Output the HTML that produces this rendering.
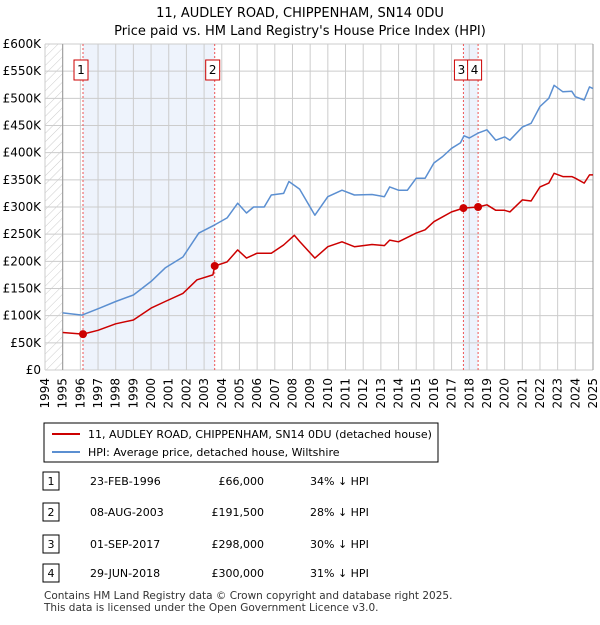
<!DOCTYPE html>
<html><head><meta charset="utf-8"><style>
body{margin:0;background:#fff;font-family:"Liberation Sans","DejaVu Sans",sans-serif;}
svg text{font-family:"DejaVu Sans","Liberation Sans",sans-serif;}
</style></head><body>
<svg id="c" width="600" height="620" xmlns="http://www.w3.org/2000/svg">
<defs><pattern id="hatch" width="6" height="6" patternUnits="userSpaceOnUse" patternTransform="rotate(45)"><line x1="0" y1="0" x2="0" y2="6" stroke="#ccc" stroke-width="1"/></pattern></defs>
<text x="300" y="17" text-anchor="middle" font-size="13" fill="#000">11, AUDLEY ROAD, CHIPPENHAM, SN14 0DU</text>
<text x="300" y="35" text-anchor="middle" font-size="13" fill="#000">Price paid vs. HM Land Registry's House Price Index (HPI)</text>
<g id="plot"></g>
<g>
<rect x="44" y="423" width="394" height="39" fill="#fff" stroke="#000" stroke-width="1"/>
<line x1="52" y1="434" x2="80" y2="434" stroke="#cc0000" stroke-width="2"/>
<text x="88" y="438" font-size="11">11, AUDLEY ROAD, CHIPPENHAM, SN14 0DU (detached house)</text>
<line x1="52" y1="452" x2="80" y2="452" stroke="#5b8fd1" stroke-width="2"/>
<text x="88" y="456" font-size="11">HPI: Average price, detached house, Wiltshire</text>
</g>
<g id="table" font-size="11"></g>
<text x="44" y="599" font-size="10.5" fill="#333">Contains HM Land Registry data © Crown copyright and database right 2025.</text>
<text x="44" y="611" font-size="10.5" fill="#333">This data is licensed under the Open Government Licence v3.0.</text>
</svg>
<script>
const hpiYears=[1995,1996.1,1997.1,1998,1999,2000,2000.8,2001.8,2002.7,2003.6,2004.3,2004.9,2005.4,2005.8,2006.4,2006.8,2007.5,2007.8,2008.4,2009.27,2010,2010.8,2011.5,2012.5,2013.2,2013.5,2014,2014.5,2015,2015.5,2016,2016.5,2017,2017.5,2017.7,2018,2018.5,2019,2019.5,2020,2020.3,2021,2021.5,2022,2022.5,2022.8,2023.3,2023.8,2024,2024.5,2024.8,2025];
const hpiValues=[105,101,114,126,138,163,188,208,252,267,280,307,289,300,300,322,325,347,333,285,319,331,322,323,319,337,331,331,353,353,381,393,408,418,431,427,436,442,423,429,423,447,454,485,500,524,512,513,503,497,521,518];
const redYears=[1995,1996.15,1997,1998,1999,2000,2000.8,2001.8,2002.6,2003.5,2003.6,2004.3,2004.9,2005.4,2006,2006.8,2007.5,2008.1,2008.42,2009.27,2010,2010.8,2011.5,2012.5,2013.2,2013.5,2014,2015,2015.5,2016,2016.5,2017,2017.67,2018.5,2019,2019.5,2020,2020.3,2021,2021.5,2022,2022.5,2022.8,2023.3,2023.8,2024,2024.5,2024.8,2025];
const redValues=[69,66,73,85,92,114,126,141,166,175,191.5,199,221,206,215,215,230,248,236,206,227,236,227,231,229,239,236,252,258,273,282,291,298,300,304,294,294,291,313,311,337,344,362,356,356,353,344,359,359];
const saleIds=["1","2","3","4"];
const saleYears=[1996.15,2003.6,2017.67,2018.5];
const saleValues=[66,191.5,298,300];
const saleDates=["23-FEB-1996","08-AUG-2003","01-SEP-2017","29-JUN-2018"];
const salePrices=["£66,000","£191,500","£298,000","£300,000"];
const saleHpi=["34% ↓ HPI","28% ↓ HPI","30% ↓ HPI","31% ↓ HPI"];
const yTicks=[0,50,100,150,200,250,300,350,400,450,500,550,600];
const yTickLabels=["£0","£50K","£100K","£150K","£200K","£250K","£300K","£350K","£400K","£450K","£500K","£550K","£600K"];
const xTicks=[];for(let y=1994;y<=2025;y++)xTicks.push(y);
const NS="http://www.w3.org/2000/svg";
const X0=45,X1=593,Y0=370,Y1=44;
const xs=y=>X0+(y-1994)*(X1-X0)/31;
const ys=v=>Y0-v*(Y0-Y1)/600;
const plot=document.getElementById('plot');
function mk(t,a,p){const e=document.createElementNS(NS,t);for(const k in a)e.setAttribute(k,a[k]);(p||plot).appendChild(e);return e;}
mk('rect',{x:X0,y:Y1,width:xs(1995)-X0,height:Y0-Y1,fill:'url(#hatch)'});
let s=mk('rect',{x:xs(saleYears[0]),y:Y1,width:xs(saleYears[1])-xs(saleYears[0]),height:Y0-Y1,fill:'#eef3fc'});

s=mk('rect',{x:xs(saleYears[2]),y:Y1,width:xs(saleYears[3])-xs(saleYears[2]),height:Y0-Y1,fill:'#eef3fc'});

xTicks.forEach((y,i)=>{
  mk('line',{x1:xs(y),y1:Y1,x2:xs(y),y2:Y0,stroke:'#cccccc','stroke-width':1});
  const t=mk('text',{x:0,y:0,'font-size':12,'text-anchor':'end',transform:`translate(${xs(y)+4},${Y0+8}) rotate(-90)`});
  t.textContent=y;
  
  
});
yTicks.forEach((v,i)=>{
  mk('line',{x1:X0,y1:ys(v),x2:X1,y2:ys(v),stroke:'#cccccc','stroke-width':1});
  const t=mk('text',{x:41,y:ys(v)+4,'font-size':12,'text-anchor':'end'});
  t.textContent=yTickLabels[i];
  
  
});
mk('line',{x1:xs(1995),y1:Y1,x2:xs(1995),y2:Y0,stroke:'#999'});
mk('line',{x1:X1,y1:Y1,x2:X1,y2:Y0,stroke:'#999'});
saleYears.forEach((y,i)=>{
  const l=mk('line',{x1:xs(y),y1:Y1,x2:xs(y),y2:Y0,stroke:'#ee5555','stroke-width':1,'stroke-dasharray':'2,2'});
  
  
});
function path(xa,va,col,name){
  const d=xa.map((x,i)=>(i?'L':'M')+xs(x).toFixed(1)+','+ys(va[i]).toFixed(1)).join('');
  const p=mk('path',{d,fill:'none',stroke:col,'stroke-width':1.5,'stroke-linejoin':'round'});
  
  
}
path(hpiYears,hpiValues,'#5b8fd1','hpi-line');
path(redYears,redValues,'#cc0000','property-price-line');
saleYears.forEach((y,i)=>{
  const c=mk('circle',{cx:xs(y),cy:ys(saleValues[i]),r:4,fill:'#cc0000'});
  
  
  const bx=(i==3)?xs(y)-10.5:xs(y)-9;
  const g=mk('g',{});
  
  
  mk('rect',{x:bx,y:60,width:14,height:20,fill:'#fff',stroke:'#cc0000'},g);
  const t=mk('text',{x:bx+7,y:74,'font-size':12,'text-anchor':'middle'},g);t.textContent=saleIds[i];
});
const tb=document.getElementById('table');
const rowY=[482,513,545,574];
saleIds.forEach((id,i)=>{
  const g=mk('g',{},tb);
  
  
  mk('rect',{x:43,y:rowY[i]-10,width:16,height:18,fill:'#fff',stroke:'#000'},g);
  let t=mk('text',{x:51,y:rowY[i]+3,'text-anchor':'middle'},g);t.textContent=id;
  t=mk('text',{x:90,y:rowY[i]+3},g);t.textContent=saleDates[i];
  t=mk('text',{x:264,y:rowY[i]+3,'text-anchor':'end'},g);t.textContent=salePrices[i];
  t=mk('text',{x:310,y:rowY[i]+3},g);t.textContent=saleHpi[i];
});
</script>
</body></html>
